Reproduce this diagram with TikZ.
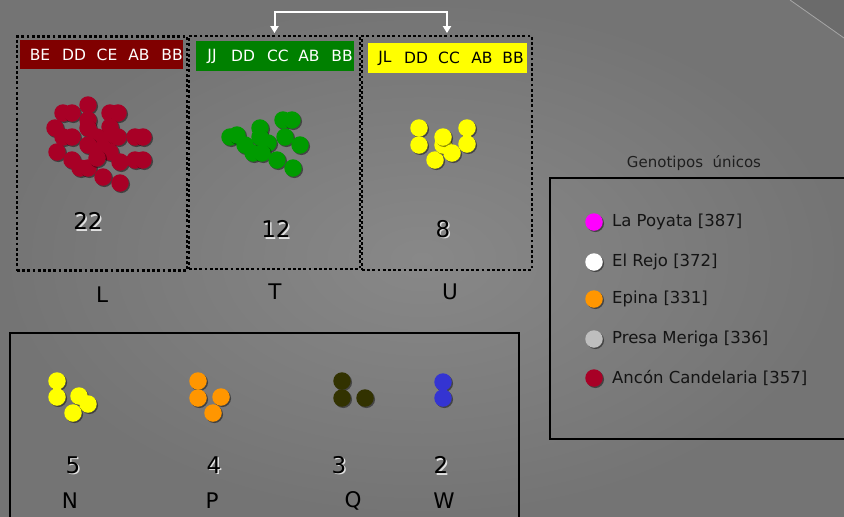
\documentclass[tikz,border=0pt]{standalone}
\usepackage{fontspec}
\setmainfont{DejaVu Sans}
\usetikzlibrary{arrows.meta,shadows}

\definecolor{bgcore}{RGB}{136,136,136}
\definecolor{bgedge}{RGB}{116,116,116}
\definecolor{hdrred}{RGB}{128,0,0}
\definecolor{hdrgreen}{RGB}{0,128,0}
\definecolor{crimson}{RGB}{168,0,38}
\definecolor{leafgreen}{RGB}{0,155,0}
\definecolor{lemon}{RGB}{255,255,0}
\definecolor{amber}{RGB}{255,150,0}
\definecolor{olive}{RGB}{50,50,0}
\definecolor{cobalt}{RGB}{52,52,210}
\definecolor{fuchsia}{RGB}{255,0,255}
\definecolor{silver}{RGB}{190,190,190}

\tikzset{
  bead/.style={circle, inner sep=0pt, minimum size=17.5pt,
    drop shadow={shadow xshift=1.3pt, shadow yshift=-1.3pt, fill=black, opacity=0.45}},
  panel/.style={draw=black, line width=2.8pt, dash pattern=on 2.8pt off 2.4pt,
    minimum width=170pt, minimum height=234pt, inner sep=0pt},
  header/.style={minimum width=160pt, minimum height=30pt, inner sep=0pt},
  code/.style={font=\fontsize{15.5}{15.5}\selectfont, inner sep=0pt},
  count/.style={font=\fontsize{23}{23}\selectfont, inner sep=0pt},
  site/.style={font=\fontsize{21.5}{21.5}\selectfont, inner sep=0pt},
  entry/.style={font=\fontsize{16.5}{16.5}\selectfont, anchor=west, inner sep=0pt, text=black!92},
  frame/.style={draw=black, line width=2pt},
  link/.style={draw=white, line width=2pt,
    {Triangle[width=8pt,length=7pt]}-{Triangle[width=8pt,length=7pt]}}
}

% number with a pale shadow behind it
\newcommand\shadednum[3]{%
  \node[count, text=black!12, xshift=1.5pt, yshift=-1.5pt] at (#2) {#3};
  \node[count] (#1) at (#2) {#3};}

\begin{document}
\begin{tikzpicture}[x=1pt, y=-1pt]

	\useasboundingbox (0,0) rectangle (844,517);
	\clip (0,0) rectangle (844,517);

	% background and folded corner
	\shade[inner color=bgcore, outer color=bgedge] (0,0) rectangle (844,517);
	\fill[bgedge!92!black] (790,0) -- (844,0) -- (844,38) -- cycle;
	\draw[black!35, line width=0.8pt] (790,0) -- (844,38);

	% Dotted panels
	\node[panel] (boxL) at (102,153.5) {};
	\node[panel, minimum width=171pt, minimum height=233pt] (boxT) at (274.5,152.5) {};
	\node[panel] (boxU) at (447,153) {};

	% Headers
	\node[header, fill=hdrred, minimum width=163pt, minimum height=29pt] (hdrL) at (101.5,54.5) {};
	\node[header, fill=hdrgreen, minimum width=158pt] (hdrT) at (275,56) {};
	\node[header, fill=lemon, minimum width=159pt] (hdrU) at (447.5,58) {};
	\foreach \lbl/\x in {BE/40,DD/74,CE/107,AB/139,BB/172}
		\node[code, text=white] (tL-\lbl) at (\x,55) {\lbl};
	\foreach \lbl/\x in {JJ/212,DD/243,CC/278,AB/309,BB/342}
		\node[code, text=white] (tT-\lbl) at (\x,56) {\lbl};
	\foreach \lbl/\x in {JL/385,DD/416,CC/449,AB/482,BB/513}
		\node[code, text=black] (tU-\lbl) at (\x,58) {\lbl};

	% Arrow between T and U
	\coordinate (hop) at (361,12);
	\draw[link, shorten <=1.5pt, shorten >=1.5pt] (boxT.north) |- (hop) -| (boxU.north);

	% Red cluster
	\foreach \x/\y [count=\i] in {88/105,63/113,72/113,110/113,118/113,55/128,88/120,88/128,
		110/127,63/137,72/137,97/137,110/137,118/137,135/137,143/137,57/152,88/145,103/148,
		110/152,120/162,135/160,143/160,72/160,80/168,88/168,97/158,103/177,120/183}
		\node[bead, fill=crimson] (red\i) at (\x,\y) {};

	% Green cluster
	\foreach \x/\y [count=\i] in {230/137,237/135,245/145,253/153,260/128,260/137,268/143,
		262/153,277/160,283/120,292/120,285/137,300/145,293/168}
		\node[bead, fill=leafgreen] (green\i) at (\x,\y) {};

	% Yellow cluster
	\foreach \x/\y [count=\i] in {419/128,419/145,435/160,443/145,443/137,452/153,467/128,467/144}
		\node[bead, fill=lemon] (yel\i) at (\x,\y) {};

	% Counts and site letters
	\shadednum{nL}{88,221}{22}
	\shadednum{nT}{276,229}{12}
	\shadednum{nU}{443,229}{8}
	\node[site] (sL) at (102,295) {L};
	\node[site] (sT) at (275,292) {T};
	\node[site] (sU) at (450,292) {U};

	% Bottom panel
	\draw[frame] (10,530) -- (10,333) -- (519,333) -- (519,530);
	\foreach \x/\y [count=\i] in {57/381,57/397,79/396,88/404,73/413}
		\node[bead, fill=lemon] (n\i) at (\x,\y) {};
	\foreach \x/\y [count=\i] in {198/381,198/398,221/397,213/413}
		\node[bead, fill=amber] (p\i) at (\x,\y) {};
	\foreach \x/\y [count=\i] in {342/381,342/398,365/398}
		\node[bead, fill=olive] (q\i) at (\x,\y) {};
	\foreach \x/\y [count=\i] in {443/382,443/398}
		\node[bead, fill=cobalt] (w\i) at (\x,\y) {};
	\shadednum{nN}{73,465}{5}
	\shadednum{nP}{214,465}{4}
	\shadednum{nQ}{339,465}{3}
	\shadednum{nW}{441,465}{2}
	\node[site] (sN) at (70,501) {N};
	\node[site] (sP) at (212,501) {P};
	\node[site] (sQ) at (353,501) {Q};
	\node[site] (sW) at (444,501) {W};

	% Legend
	\node[font=\fontsize{15}{15}\selectfont, text=black!88] (title) at (694,163) {Genotipos\ \ únicos};
	\draw[frame] (860,178) -- (550,178) -- (550,439) -- (860,439);
	\foreach \col/\txt/\y [count=\i] in {fuchsia/La Poyata [387]/222, white/El Rejo [372]/262,
		amber/Epina [331]/299, silver/Presa Meriga [336]/339, crimson/Ancón Candelaria [357]/378}
	{
		\node[bead, fill=\col] (key\i) at (594,\y) {};
		\node[entry] (lab\i) at (612,\y) {\txt};
	}

\end{tikzpicture}
\end{document}
